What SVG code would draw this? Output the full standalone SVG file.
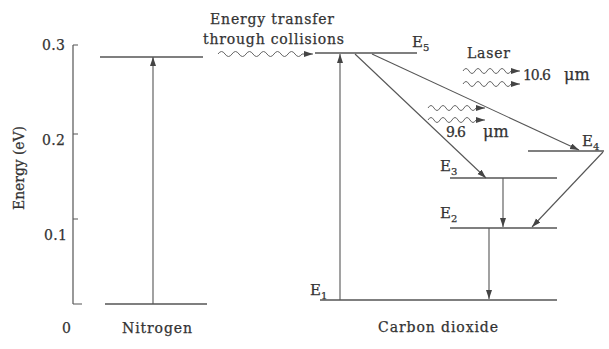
<svg xmlns="http://www.w3.org/2000/svg" width="609" height="349" viewBox="0 0 609 349">
<defs>
<marker id="ah" markerUnits="userSpaceOnUse" markerWidth="10" markerHeight="8" refX="9" refY="3" orient="auto">
<path d="M0,0 L9,3 L0,6 z" fill="#444"/>
</marker>
<style>
.ln{stroke:#555;stroke-width:1.2;fill:none}
.lv{stroke:#555;stroke-width:1.4;fill:none}
.ar{stroke:#555;stroke-width:1.1;fill:none;marker-end:url(#ah)}
.wv{stroke:#666;stroke-width:1;fill:none;marker-end:url(#ah)}
text{font-family:"DejaVu Serif","Liberation Serif",serif;fill:#333;font-size:14px;stroke:#333;stroke-width:0.25}
.e{font-size:15px}
.sub{font-size:10px}
.mu{font-size:16px}
</style>
</defs>
<rect width="609" height="349" fill="#fff"/>

<g id="axis">
<path class="ln" d="M73,45 V304 M73,45 H78 M73,134 H78 M73,219 H78 M73,304 H82"/>
<text x="42" y="50" textLength="23">0.3</text>
<text x="42" y="145" textLength="23">0.2</text>
<text x="44" y="240" textLength="23">0.1</text>
<text x="62" y="333">0</text>
<text transform="translate(24,168) rotate(-90)" text-anchor="middle" font-size="12" textLength="84">Energy (eV)</text>
</g>

<g id="nitrogen">
<path class="lv" d="M100,57 H203 M105,304 H207"/>
<text x="122" y="333" textLength="70">Nitrogen</text>
</g>

<g id="E5">
<path class="lv" d="M315,53 H417"/>
<text class="e" x="412" y="47">E<tspan class="sub" dy="4">5</tspan></text>
</g>
<g id="E4">
<path class="lv" d="M528,151 H604"/>
<text class="e" x="582" y="146">E<tspan class="sub" dy="4">4</tspan></text>
</g>
<g id="E3">
<path class="lv" d="M450,178 H557"/>
<text class="e" x="440" y="171">E<tspan class="sub" dy="4">3</tspan></text>
</g>
<g id="E2">
<path class="lv" d="M450,228 H557"/>
<text class="e" x="440" y="218">E<tspan class="sub" dy="4">2</tspan></text>
</g>
<g id="E1">
<path class="lv" d="M320,300 H557"/>
<text class="e" x="310" y="295">E<tspan class="sub" dy="4">1</tspan></text>
<text x="378" y="332" textLength="120">Carbon dioxide</text>
</g>

<g id="labels">
<text x="210" y="24" textLength="124">Energy transfer</text>
<text x="203" y="44" textLength="141">through collisions</text>
<text x="467" y="58" textLength="43">Laser</text>
<text x="523" y="80" textLength="28">10.6</text>
<text class="mu" x="564" y="80">μm</text>
<text x="446" y="137" textLength="20">9.6</text>
<text class="mu" x="483" y="137">μm</text>
</g>

<g id="connectors">
<path class="ar" d="M153,304 V57"/>
<path class="ar" d="M340,300 V54"/>
<path class="ar" d="M355,54 L486,178"/>
<path class="ar" d="M372,54 L579,150"/>
<path class="ar" d="M603,152 L532,227"/>
<path class="ar" d="M503,178 V227"/>
<path class="ar" d="M489,228 V299"/>
<path class="wv" d="M218,54 q3.5,-5 7,0 t7,0 t7,0 t7,0 t7,0 t7,0 t7,0 t7,0 t7,0 t7,0 t7,0 t7,0 l11,0"/>
<path class="wv" d="M463,71 q3,-5 6,0 t6,0 t6,0 t6,0 t6,0 t6,0 t6,0 t6,0 l9,0"/>
<path class="wv" d="M463,84 q3,-5 6,0 t6,0 t6,0 t6,0 t6,0 t6,0 t6,0 t6,0 l9,0"/>
<path class="wv" d="M428,108 q3,-5 6,0 t6,0 t6,0 t6,0 t6,0 t6,0 t6,0 t6,0 l9,0"/>
<path class="wv" d="M428,120 q3,-5 6,0 t6,0 t6,0 t6,0 t6,0 t6,0 t6,0 t6,0 l9,0"/>
</g>
</svg>
